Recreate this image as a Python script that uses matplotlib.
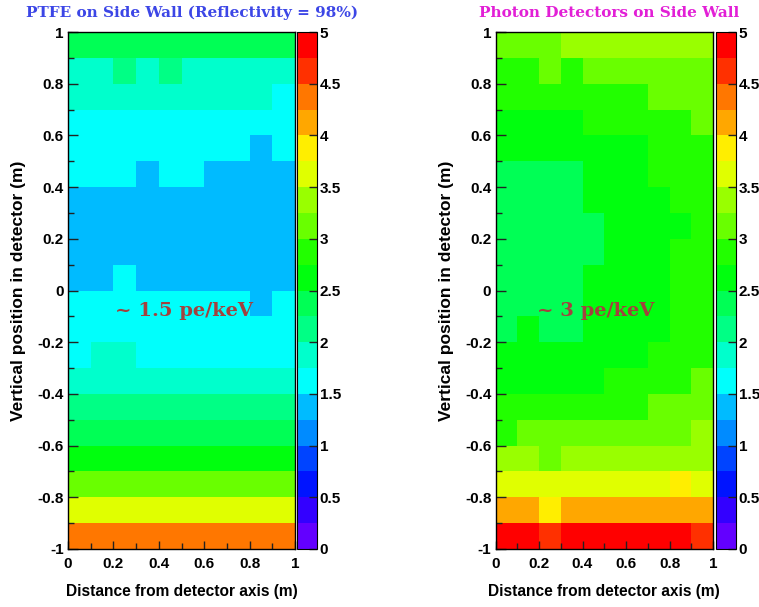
import colorsys

import matplotlib
matplotlib.use("Agg")
import matplotlib.pyplot as plt
import numpy as np
from matplotlib.colors import BoundaryNorm, ListedColormap
from matplotlib.ticker import FixedLocator, MultipleLocator

# bin edges of the maps (m)
x_edges = np.linspace(0, 1, 11)
y_edges = np.linspace(-1, 1, 21)

# light yield (pe/keV), rows listed from top (y = 0.9..1.0) to bottom
ptfe_rows = [
    [2.4, 2.4, 2.4, 2.4, 2.4, 2.4, 2.4, 2.4, 2.4, 2.4],
    [1.9, 1.9, 2.1, 1.9, 2.1, 1.9, 1.9, 1.9, 1.9, 1.9],
    [1.9, 1.9, 1.9, 1.9, 1.9, 1.9, 1.9, 1.9, 1.9, 1.6],
    [1.6, 1.6, 1.6, 1.6, 1.6, 1.6, 1.6, 1.6, 1.6, 1.6],
    [1.6, 1.6, 1.6, 1.6, 1.6, 1.6, 1.6, 1.6, 1.4, 1.6],
    [1.6, 1.6, 1.6, 1.4, 1.6, 1.6, 1.4, 1.4, 1.4, 1.4],
    [1.4, 1.4, 1.4, 1.4, 1.4, 1.4, 1.4, 1.4, 1.4, 1.4],
    [1.4, 1.4, 1.4, 1.4, 1.4, 1.4, 1.4, 1.4, 1.4, 1.4],
    [1.4, 1.4, 1.4, 1.4, 1.4, 1.4, 1.4, 1.4, 1.4, 1.4],
    [1.4, 1.4, 1.6, 1.4, 1.4, 1.4, 1.4, 1.4, 1.4, 1.4],
    [1.6, 1.6, 1.6, 1.6, 1.6, 1.6, 1.6, 1.6, 1.4, 1.6],
    [1.6, 1.6, 1.6, 1.6, 1.6, 1.6, 1.6, 1.6, 1.6, 1.6],
    [1.6, 1.9, 1.9, 1.6, 1.6, 1.6, 1.6, 1.6, 1.6, 1.6],
    [1.9, 1.9, 1.9, 1.9, 1.9, 1.9, 1.9, 1.9, 1.9, 1.9],
    [2.1, 2.1, 2.1, 2.1, 2.1, 2.1, 2.1, 2.1, 2.1, 2.1],
    [2.4, 2.4, 2.4, 2.4, 2.4, 2.4, 2.4, 2.4, 2.4, 2.4],
    [2.6, 2.6, 2.6, 2.6, 2.6, 2.6, 2.6, 2.6, 2.6, 2.6],
    [3.1, 3.1, 3.1, 3.1, 3.1, 3.1, 3.1, 3.1, 3.1, 3.1],
    [3.6, 3.6, 3.6, 3.6, 3.6, 3.6, 3.6, 3.6, 3.6, 3.6],
    [4.4, 4.4, 4.4, 4.4, 4.4, 4.4, 4.4, 4.4, 4.4, 4.4],
]

detector_rows = [
    [3.1, 3.1, 3.1, 3.4, 3.4, 3.4, 3.4, 3.4, 3.4, 3.4],
    [2.9, 2.9, 3.1, 2.9, 3.1, 3.1, 3.1, 3.1, 3.1, 3.1],
    [2.9, 2.9, 2.9, 2.9, 2.9, 2.9, 2.9, 3.1, 3.1, 3.1],
    [2.6, 2.6, 2.6, 2.6, 2.9, 2.9, 2.9, 2.9, 2.9, 3.1],
    [2.6, 2.6, 2.6, 2.6, 2.6, 2.6, 2.6, 2.9, 2.9, 2.9],
    [2.4, 2.4, 2.4, 2.4, 2.6, 2.6, 2.6, 2.9, 2.9, 2.9],
    [2.4, 2.4, 2.4, 2.4, 2.6, 2.6, 2.6, 2.6, 2.9, 2.9],
    [2.4, 2.4, 2.4, 2.4, 2.4, 2.6, 2.6, 2.6, 2.6, 2.9],
    [2.4, 2.4, 2.4, 2.4, 2.4, 2.6, 2.6, 2.6, 2.9, 2.9],
    [2.4, 2.4, 2.4, 2.4, 2.6, 2.6, 2.6, 2.6, 2.9, 2.9],
    [2.4, 2.4, 2.4, 2.4, 2.6, 2.6, 2.6, 2.6, 2.9, 2.9],
    [2.4, 2.6, 2.4, 2.4, 2.6, 2.6, 2.6, 2.6, 2.9, 2.9],
    [2.6, 2.6, 2.6, 2.6, 2.6, 2.6, 2.6, 2.9, 2.9, 2.9],
    [2.6, 2.6, 2.6, 2.6, 2.6, 2.9, 2.9, 2.9, 2.9, 3.1],
    [2.9, 2.9, 2.9, 2.9, 2.9, 2.9, 2.9, 3.1, 3.1, 3.1],
    [2.9, 3.1, 3.1, 3.1, 3.1, 3.1, 3.1, 3.1, 3.1, 3.4],
    [3.4, 3.4, 3.1, 3.4, 3.4, 3.4, 3.4, 3.4, 3.4, 3.4],
    [3.6, 3.6, 3.6, 3.6, 3.6, 3.6, 3.6, 3.6, 3.9, 3.6],
    [4.1, 4.1, 3.9, 4.1, 4.1, 4.1, 4.1, 4.1, 4.1, 4.1],
    [4.9, 4.9, 4.6, 4.9, 4.9, 4.9, 4.9, 4.9, 4.9, 4.6],
]

titles = ["PTFE on Side Wall (Reflectivity = 98%)", "Photon Detectors on Side Wall"]
title_colors = ["#3c46e6", "#e21fd6"]
title_x = [192 / 759, 609 / 759]
notes = ["~ 1.5 pe/keV", "~ 3 pe/keV"]
note_pos = [(0.51, -0.08), (0.46, -0.08)]

x_ticks = [0, 0.2, 0.4, 0.6, 0.8, 1]
x_ticklabels = ["0", "0.2", "0.4", "0.6", "0.8", "1"]
y_ticks = [-1, -0.8, -0.6, -0.4, -0.2, 0, 0.2, 0.4, 0.6, 0.8, 1]
y_ticklabels = ["-1", "-0.8", "-0.6", "-0.4", "-0.2", "0", "0.2", "0.4", "0.6", "0.8", "1"]
z_ticks = [0, 0.5, 1, 1.5, 2, 2.5, 3, 3.5, 4, 4.5, 5]
z_ticklabels = ["0", "0.5", "1", "1.5", "2", "2.5", "3", "3.5", "4", "4.5", "5"]


def root_palette(ncont=20, ncolors=50):
    # ROOT "pretty" palette (SetPalette(1)), sampled like THistPainter does
    cols = []
    for k in range(ncont):
        idx = int((k + 0.99) * ncolors / ncont)
        hue = 280 - (idx + 1) * 280.0 / ncolors
        cols.append(colorsys.hls_to_rgb(hue / 360.0, 0.5, 1.0))
    return cols


cmap = ListedColormap(root_palette())
levels = np.linspace(0, 5, 21)
norm = BoundaryNorm(levels, cmap.N)

tick_font = dict(family="Liberation Sans", weight="bold", size=11)
xlabel_font = dict(family="Liberation Sans", weight="bold", size=11.2)
ylabel_font = dict(family="Liberation Sans", weight="bold", size=12.5)

fig = plt.figure(figsize=(7.59, 6.07), dpi=100)

bottom = 58 / 607
height = 517 / 607
panels = [
    ([68 / 759, bottom, 227 / 759, height], [297 / 759, bottom, 20 / 759, height], ptfe_rows),
    ([495.5 / 759, bottom, 217.5 / 759, height], [716 / 759, bottom, 20 / 759, height], detector_rows),
]

for i, (ax_rect, cax_rect, rows) in enumerate(panels):
    ax = fig.add_axes(ax_rect)
    cax = fig.add_axes(cax_rect)

    z = np.array(rows)[::-1]
    mesh = ax.pcolormesh(x_edges, y_edges, z, cmap=cmap, norm=norm)
    ax.set_xlim(0, 1)
    ax.set_ylim(-1, 1)

    ax.set_xticks(x_ticks)
    ax.set_xticklabels(x_ticklabels, **tick_font)
    ax.set_yticks(y_ticks)
    ax.set_yticklabels(y_ticklabels, **tick_font)
    ax.xaxis.set_minor_locator(MultipleLocator(0.1))
    ax.yaxis.set_minor_locator(MultipleLocator(0.1))
    ax.tick_params(which="major", direction="in", length=7, width=1, pad=3, color="#222222")
    ax.tick_params(which="minor", direction="in", length=4.5, width=1, color="#222222")
    ax.tick_params(axis="x", which="major", length=5.5, pad=6)

    # smallest ticks (ROOT third-level divisions)
    sx = ax.secondary_xaxis("bottom")
    sx.xaxis.set_major_locator(FixedLocator(np.arange(0, 61) / 60))
    sx.tick_params(direction="in", length=2.5, width=0.8, labelbottom=False, color="#222222")
    sx.spines["bottom"].set_visible(False)
    sy = ax.secondary_yaxis("left")
    sy.yaxis.set_major_locator(MultipleLocator(0.05))
    sy.tick_params(direction="in", length=3, width=0.8, labelleft=False, color="#222222")
    sy.spines["left"].set_visible(False)

    for s in ax.spines.values():
        s.set_linewidth(1)

    ax.set_xlabel("Distance from detector axis (m)", labelpad=9, **xlabel_font)
    ax.set_ylabel("Vertical position in detector (m)", labelpad=8, **ylabel_font)

    ax.text(note_pos[i][0], note_pos[i][1], notes[i], ha="center", va="center",
            color="#a2423e", family="DejaVu Serif", weight="bold", size=14)

    fig.text(title_x[i], 1 - 13 / 607, titles[i], ha="center", va="center",
             color=title_colors[i], family="DejaVu Serif", weight="bold", size=11)

    cb = fig.colorbar(mesh, cax=cax, ticks=z_ticks)
    cb.ax.set_yticklabels(z_ticklabels, **tick_font)
    cb.ax.tick_params(direction="in", length=6, width=1, pad=2, color="#222222")
    cb.ax.minorticks_off()
    cb.outline.set_linewidth(0.8)

fig.savefig("out.png", dpi=100)
